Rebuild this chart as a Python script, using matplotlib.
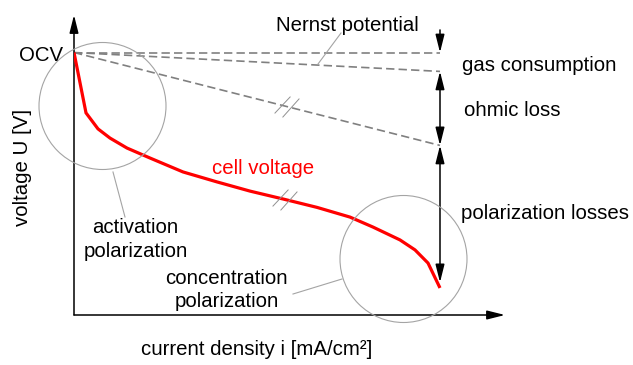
import numpy as np
import matplotlib
matplotlib.use("Agg")
import matplotlib.pyplot as plt
from matplotlib.patches import Circle
from matplotlib.path import Path
from matplotlib.transforms import Affine2D

# ---- data -------------------------------------------------------------
# current density (arbitrary units, 0 .. 100) and cell voltage (OCV = 1)
current = [0.0, 3.28, 6.56, 9.84, 14.48, 20.77, 29.78, 39.07, 48.09,
           57.10, 66.39, 75.41, 81.69, 89.07, 93.17, 96.72, 100.0]
cell_voltage = [1.0, 0.770, 0.709, 0.674, 0.636, 0.598, 0.545, 0.507, 0.472,
                0.442, 0.410, 0.373, 0.335, 0.286, 0.248, 0.198, 0.103]

ocv = 1.0
i_max = 100.0
nernst_end = 1.0       # Nernst potential at i_max
gas_end = 0.928        # after gas consumption at i_max
ohmic_end = 0.646      # after ohmic loss at i_max

break_i = [58.0, 57.3]  # positions of the "//" axis-break marks (ohmic line, cell voltage)

x_limits = (0.0, 117.76)
y_limits = (0.0, 1.1429)

# ---- styling ----------------------------------------------------------
plt.rcParams["font.family"] = ["Liberation Sans", "DejaVu Sans"]
FS = 14.7
GREY_DASH = "#808080"
GREY_THIN = "#a4a4a4"
W, H = 633, 365

fig = plt.figure(figsize=(W / 100, H / 100), dpi=100)
ax = fig.add_axes([74 / W, 50 / H, 431 / W, 300 / H])
ax.set_xlim(*x_limits)
ax.set_ylim(*y_limits)
ax.axis("off")

# pixel coordinates (origin top-left) for text and decorations
px = Affine2D().scale(1 / 100, -1 / 100).translate(0, H / 100) + fig.dpi_scale_trans

# axes with arrow heads
axis_arrow = dict(arrowstyle="-|>,head_length=1.08,head_width=0.27",
                  color="black", lw=1.1, shrinkA=0, shrinkB=0, mutation_scale=10)
ax.annotate("", xy=(1, 0), xytext=(0, 0), xycoords="axes fraction",
            textcoords="axes fraction", arrowprops=axis_arrow, annotation_clip=False)
ax.annotate("", xy=(0, 1), xytext=(0, 0), xycoords="axes fraction",
            textcoords="axes fraction", arrowprops=axis_arrow, annotation_clip=False)

# reference lines from OCV
dash = dict(color=GREY_DASH, lw=1.2, dashes=(5, 2.5))
ax.plot([0, i_max], [ocv, nernst_end], **dash)
ax.plot([0, i_max], [ocv, gas_end], **dash)
ax.plot([0, i_max], [ocv, ohmic_end], **dash)

# cell voltage curve
ax.plot(current, cell_voltage, color="#ff0000", lw=2.3, solid_joinstyle="miter",
        solid_capstyle="butt", zorder=4)

# loss arrows at i_max
v_top = 1.086
ax.annotate("", xy=(i_max, nernst_end), xytext=(i_max, v_top), arrowprops=axis_arrow)
both = dict(axis_arrow, arrowstyle="<|-|>,head_length=1.08,head_width=0.27")
ax.annotate("", xy=(i_max, ohmic_end), xytext=(i_max, gas_end), arrowprops=both)
ax.annotate("", xy=(i_max, cell_voltage[-1]), xytext=(i_max, ohmic_end),
            arrowprops=dict(both, shrinkB=4))

# "//" break marks
brk = Path([(-12, -7), (4, 10), (-4, -11), (13, 8)],
           [Path.MOVETO, Path.LINETO, Path.MOVETO, Path.LINETO])
ohm_at_break = ocv + (ohmic_end - ocv) * break_i[0] / i_max
cell_at_break = np.interp(break_i[1], current, cell_voltage)
for bi, bv in [(break_i[0], ohm_at_break), (break_i[1], cell_at_break)]:
    ax.plot([bi], [bv], marker=brk, markersize=18.5, markeredgewidth=0.7,
            markeredgecolor="#909090", markerfacecolor="none", zorder=5)

# highlight circles
for cx, cy in [(102.5, 106), (403.5, 259)]:
    fig.add_artist(Circle((cx, cy), 63.5, transform=px, fill=False,
                          ec=GREY_THIN, lw=0.8))

# leader lines
for (x0, y0), (x1, y1) in [((318, 64), (341, 33)),
                           ((113, 172), (125, 217)),
                           ((293, 294), (342, 279))]:
    fig.add_artist(plt.Line2D([x0, x1], [y0, y1], transform=px,
                              color=GREY_THIN, lw=0.8))

# labels
def label(x, y, s, ha="left", color="black", **kw):
    fig.text(x, y, s, transform=px, ha=ha, va="baseline", fontsize=FS,
             color=color, **kw)

label(63, 61, "OCV", ha="right")
label(347.5, 31, "Nernst potential", ha="center")
label(462, 71, "gas consumption")
label(464, 116.5, "ohmic loss")
label(461, 219, "polarization losses")
label(212, 174, "cell voltage", color="#ff0000")
label(135.5, 233, "activation", ha="center")
label(135.5, 257, "polarization", ha="center")
label(226.5, 284, "concentration", ha="center")
label(226.5, 307, "polarization", ha="center")
label(256.5, 355, "current density i [mA/cm²]", ha="center")
fig.text(22.5, 167.5, "voltage U [V]", transform=px, ha="center", va="center",
         rotation=90, fontsize=FS)

fig.savefig("out.png", dpi=100)
